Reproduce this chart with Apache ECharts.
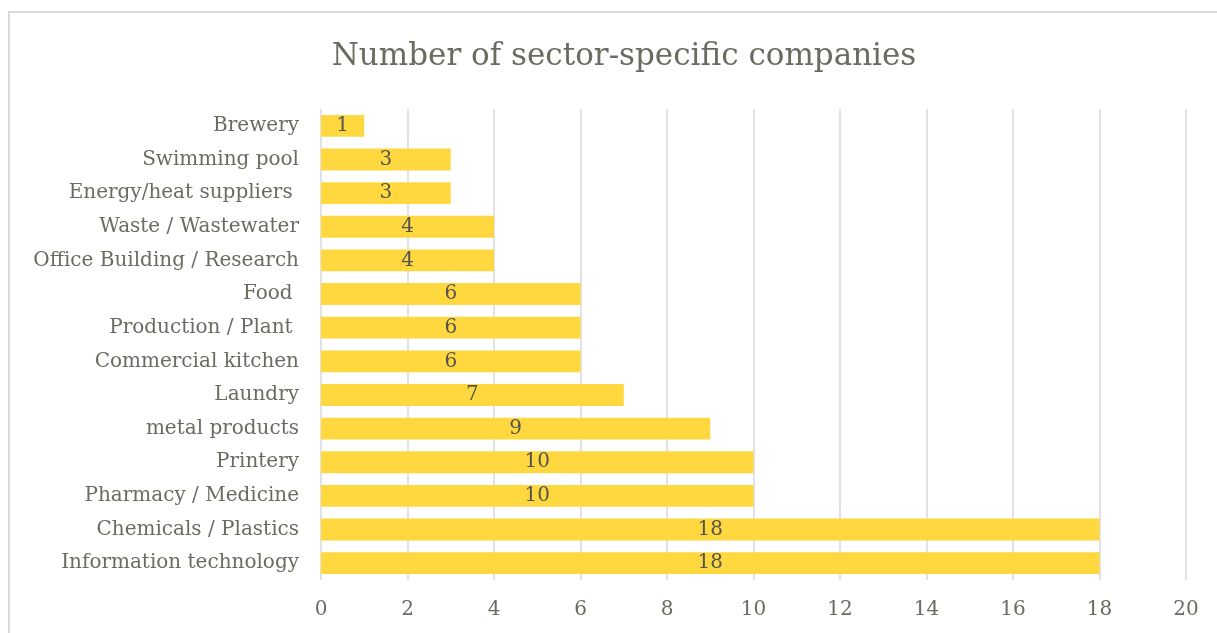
<!DOCTYPE html>
<html>
<head>
<meta charset="utf-8">
<script src="https://cdn.jsdelivr.net/npm/echarts@6/dist/echarts.min.js"></script>
<style>
  html, body { margin: 0; padding: 0; background: #fff; }
  #chart { width: 1217px; height: 633px; }
</style>
</head>
<body>
<div id="chart"></div>
<script>
// Sectors, listed top to bottom
const sectors = [
  'Brewery',
  'Swimming pool',
  'Energy/heat suppliers ',
  'Waste / Wastewater',
  'Office Building / Research',
  'Food ',
  'Production / Plant ',
  'Commercial kitchen',
  'Laundry',
  'metal products',
  'Printery',
  'Pharmacy / Medicine',
  'Chemicals / Plastics',
  'Information technology'
];
// Number of companies per sector
const companies = [1, 3, 3, 4, 4, 6, 6, 6, 7, 9, 10, 10, 18, 18];
const xTicks = [0, 2, 4, 6, 8, 10, 12, 14, 16, 18, 20];

const serif = '"DejaVu Serif", "Liberation Serif", serif';
const textGrey = '#6b6b62';

const chart = echarts.init(document.getElementById('chart'), null, { renderer: 'canvas' });
chart.setOption({
  backgroundColor: '#ffffff',
  animation: false,
  graphic: [{
    type: 'rect',
    shape: { x: 9, y: 12, width: 1230, height: 640 },
    style: { fill: 'none', stroke: '#d9d9d9', lineWidth: 2 },
    silent: true
  }],
  title: {
    text: 'Number of sector-specific companies',
    left: 619,
    textAlign: 'center',
    top: 36,
    textStyle: { fontFamily: serif, fontSize: 31, fontWeight: 'normal', color: textGrey }
  },
  grid: { left: 321, right: 31, top: 109, bottom: 53, containLabel: false },
  xAxis: {
    type: 'value',
    min: xTicks[0],
    max: xTicks[xTicks.length - 1],
    interval: 2,
    axisLine: { show: false },
    axisTick: { show: false },
    axisLabel: { fontFamily: serif, fontSize: 20, color: textGrey, margin: 20 },
    splitLine: { show: true, lineStyle: { color: '#d9d9d9', width: 1.5 } }
  },
  yAxis: {
    type: 'category',
    data: sectors,
    inverse: true,
    axisLine: { show: false },
    axisTick: { show: false },
    axisLabel: { fontFamily: serif, fontSize: 20, color: textGrey, margin: 22 }
  },
  series: [{
    type: 'bar',
    data: companies,
    barCategoryGap: '35%',
    itemStyle: { color: '#ffd83f' },
    label: {
      show: true,
      position: 'inside',
      fontFamily: serif,
      fontSize: 20,
      color: '#555550'
    }
  }]
});
</script>
</body>
</html>
